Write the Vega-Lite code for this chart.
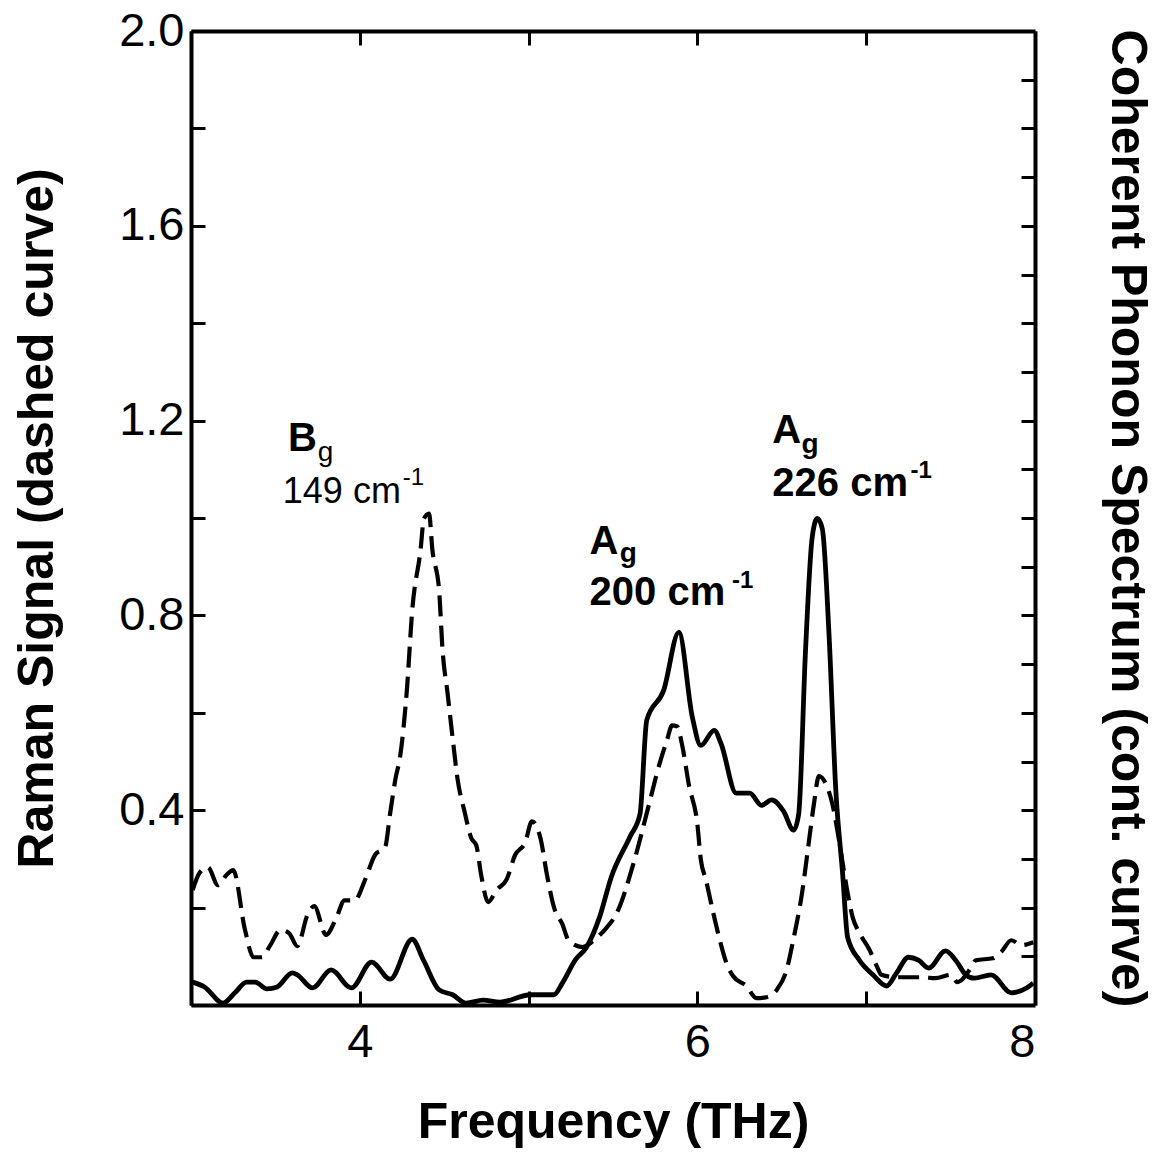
{
  "$schema": "https://vega.github.io/schema/vega-lite/v6.json",
  "width": 844,
  "height": 974,
  "autosize": {"type": "none"},
  "padding": {"left": 191, "top": 31, "right": 122, "bottom": 153},
  "background": "white",
  "config": {
    "view": {"stroke": null},
    "font": "Liberation Sans",
    "axis": {
      "domainColor": "black",
      "domainWidth": 4,
      "tickColor": "black",
      "tickWidth": 3,
      "tickSize": -14,
      "grid": false,
      "labelColor": "black",
      "titleColor": "black",
      "labelFont": "Liberation Sans",
      "titleFont": "Liberation Sans",
      "labelFontSize": 47,
      "labelFontWeight": "normal",
      "titleFontSize": 50,
      "titleFontWeight": "bold"
    }
  },
  "datasets": {
    "solid": [
      {"f": 3.01, "v": 0.047}, {"f": 3.08, "v": 0.037}, {"f": 3.19, "v": 0.004}, {"f": 3.26, "v": 0.025},
      {"f": 3.33, "v": 0.047}, {"f": 3.38, "v": 0.047}, {"f": 3.45, "v": 0.033}, {"f": 3.51, "v": 0.037},
      {"f": 3.60, "v": 0.066}, {"f": 3.63, "v": 0.062}, {"f": 3.72, "v": 0.035}, {"f": 3.83, "v": 0.072},
      {"f": 3.95, "v": 0.035}, {"f": 4.07, "v": 0.088}, {"f": 4.18, "v": 0.053}, {"f": 4.31, "v": 0.135},
      {"f": 4.38, "v": 0.090}, {"f": 4.47, "v": 0.031}, {"f": 4.55, "v": 0.021}, {"f": 4.63, "v": 0.004},
      {"f": 4.73, "v": 0.010}, {"f": 4.83, "v": 0.006}, {"f": 5.01, "v": 0.021}, {"f": 5.15, "v": 0.021},
      {"f": 5.20, "v": 0.045}, {"f": 5.28, "v": 0.094}, {"f": 5.34, "v": 0.117}, {"f": 5.42, "v": 0.180},
      {"f": 5.49, "v": 0.263}, {"f": 5.60, "v": 0.345}, {"f": 5.66, "v": 0.392}, {"f": 5.70, "v": 0.585},
      {"f": 5.80, "v": 0.646}, {"f": 5.89, "v": 0.765}, {"f": 5.97, "v": 0.591}, {"f": 6.02, "v": 0.533},
      {"f": 6.10, "v": 0.564}, {"f": 6.14, "v": 0.537}, {"f": 6.23, "v": 0.435}, {"f": 6.31, "v": 0.435},
      {"f": 6.38, "v": 0.410}, {"f": 6.44, "v": 0.421}, {"f": 6.51, "v": 0.398}, {"f": 6.57, "v": 0.359},
      {"f": 6.60, "v": 0.392}, {"f": 6.64, "v": 0.724}, {"f": 6.68, "v": 0.960}, {"f": 6.71, "v": 0.999},
      {"f": 6.74, "v": 0.978}, {"f": 6.78, "v": 0.759}, {"f": 6.82, "v": 0.441}, {"f": 6.86, "v": 0.271},
      {"f": 6.89, "v": 0.139}, {"f": 6.96, "v": 0.092}, {"f": 7.04, "v": 0.062}, {"f": 7.12, "v": 0.039},
      {"f": 7.18, "v": 0.066}, {"f": 7.25, "v": 0.098}, {"f": 7.31, "v": 0.092}, {"f": 7.37, "v": 0.076},
      {"f": 7.47, "v": 0.111}, {"f": 7.53, "v": 0.092}, {"f": 7.59, "v": 0.062}, {"f": 7.64, "v": 0.055},
      {"f": 7.74, "v": 0.062}, {"f": 7.86, "v": 0.025}, {"f": 7.95, "v": 0.035}, {"f": 7.99, "v": 0.045}
    ],
    "dashed": [
      {"f": 3.01, "v": 0.236}, {"f": 3.05, "v": 0.271}, {"f": 3.10, "v": 0.283}, {"f": 3.16, "v": 0.246},
      {"f": 3.21, "v": 0.267}, {"f": 3.25, "v": 0.277}, {"f": 3.32, "v": 0.154}, {"f": 3.37, "v": 0.098},
      {"f": 3.42, "v": 0.098}, {"f": 3.47, "v": 0.123}, {"f": 3.53, "v": 0.154}, {"f": 3.58, "v": 0.148},
      {"f": 3.63, "v": 0.121}, {"f": 3.69, "v": 0.185}, {"f": 3.73, "v": 0.203}, {"f": 3.80, "v": 0.144},
      {"f": 3.86, "v": 0.178}, {"f": 3.91, "v": 0.215}, {"f": 3.97, "v": 0.215}, {"f": 4.03, "v": 0.256},
      {"f": 4.09, "v": 0.308}, {"f": 4.15, "v": 0.324}, {"f": 4.18, "v": 0.394}, {"f": 4.21, "v": 0.462},
      {"f": 4.24, "v": 0.513}, {"f": 4.28, "v": 0.652}, {"f": 4.31, "v": 0.808}, {"f": 4.36, "v": 0.935},
      {"f": 4.38, "v": 0.999}, {"f": 4.41, "v": 1.009}, {"f": 4.43, "v": 0.935}, {"f": 4.47, "v": 0.851},
      {"f": 4.49, "v": 0.730}, {"f": 4.52, "v": 0.640}, {"f": 4.55, "v": 0.548}, {"f": 4.58, "v": 0.462},
      {"f": 4.62, "v": 0.398}, {"f": 4.66, "v": 0.343}, {"f": 4.69, "v": 0.328}, {"f": 4.72, "v": 0.265},
      {"f": 4.76, "v": 0.211}, {"f": 4.81, "v": 0.236}, {"f": 4.87, "v": 0.258}, {"f": 4.92, "v": 0.308},
      {"f": 4.98, "v": 0.334}, {"f": 5.02, "v": 0.377}, {"f": 5.07, "v": 0.343}, {"f": 5.11, "v": 0.265},
      {"f": 5.15, "v": 0.201}, {"f": 5.20, "v": 0.166}, {"f": 5.24, "v": 0.131}, {"f": 5.32, "v": 0.119},
      {"f": 5.38, "v": 0.131}, {"f": 5.46, "v": 0.158}, {"f": 5.52, "v": 0.187}, {"f": 5.62, "v": 0.289},
      {"f": 5.70, "v": 0.394}, {"f": 5.73, "v": 0.435}, {"f": 5.76, "v": 0.476}, {"f": 5.82, "v": 0.544},
      {"f": 5.85, "v": 0.574}, {"f": 5.88, "v": 0.572}, {"f": 5.91, "v": 0.533}, {"f": 5.95, "v": 0.451},
      {"f": 6.00, "v": 0.371}, {"f": 6.02, "v": 0.299}, {"f": 6.05, "v": 0.258}, {"f": 6.09, "v": 0.195},
      {"f": 6.13, "v": 0.137}, {"f": 6.17, "v": 0.088}, {"f": 6.21, "v": 0.060}, {"f": 6.29, "v": 0.039},
      {"f": 6.35, "v": 0.014}, {"f": 6.41, "v": 0.016}, {"f": 6.47, "v": 0.031}, {"f": 6.53, "v": 0.074},
      {"f": 6.57, "v": 0.137}, {"f": 6.62, "v": 0.230}, {"f": 6.66, "v": 0.334}, {"f": 6.69, "v": 0.412},
      {"f": 6.72, "v": 0.470}, {"f": 6.76, "v": 0.455}, {"f": 6.80, "v": 0.412}, {"f": 6.83, "v": 0.357},
      {"f": 6.86, "v": 0.293}, {"f": 6.89, "v": 0.230}, {"f": 6.92, "v": 0.180}, {"f": 6.96, "v": 0.148},
      {"f": 7.02, "v": 0.113}, {"f": 7.06, "v": 0.082}, {"f": 7.09, "v": 0.062}, {"f": 7.18, "v": 0.057},
      {"f": 7.25, "v": 0.057}, {"f": 7.33, "v": 0.057}, {"f": 7.41, "v": 0.055}, {"f": 7.50, "v": 0.062},
      {"f": 7.54, "v": 0.047}, {"f": 7.62, "v": 0.076}, {"f": 7.65, "v": 0.092}, {"f": 7.75, "v": 0.096},
      {"f": 7.80, "v": 0.109}, {"f": 7.86, "v": 0.133}, {"f": 7.92, "v": 0.123}, {"f": 7.99, "v": 0.129}
    ],
    "notes": [
      {"peak": "Bg", "part": "base", "f": 3.574, "v": 1.138, "t": "B"},
      {"peak": "Bg", "part": "sub", "f": 3.751, "v": 1.118, "t": "g"},
      {"peak": "Bg", "part": "line2", "f": 3.544, "v": 1.030, "t": "149 cm"},
      {"peak": "Bg", "part": "sup", "f": 4.255, "v": 1.067, "t": "-1"},
      {"peak": "Ag200", "part": "base", "f": 5.361, "v": 0.927, "t": "A"},
      {"peak": "Ag200", "part": "sub", "f": 5.540, "v": 0.909, "t": "g"},
      {"peak": "Ag200", "part": "line2", "f": 5.361, "v": 0.821, "t": "200 cm"},
      {"peak": "Ag200", "part": "sup", "f": 6.205, "v": 0.857, "t": "-1"},
      {"peak": "Ag226", "part": "base", "f": 6.444, "v": 1.153, "t": "A"},
      {"peak": "Ag226", "part": "sub", "f": 6.617, "v": 1.134, "t": "g"},
      {"peak": "Ag226", "part": "line2", "f": 6.444, "v": 1.046, "t": "226 cm"},
      {"peak": "Ag226", "part": "sup", "f": 7.262, "v": 1.083, "t": "-1"}
    ]
  },
  "resolve": {"axis": {"x": "independent", "y": "independent"}},
  "layer": [
    {
      "data": {"name": "solid"},
      "mark": {"type": "line", "color": "black", "strokeWidth": 4.8, "interpolate": "monotone"},
      "encoding": {
        "x": {
          "field": "f", "type": "quantitative",
          "scale": {"domain": [3, 8], "nice": false, "zero": false},
          "axis": {
            "orient": "bottom", "values": [3, 4, 5, 6, 7, 8],
            "labelExpr": "datum.value % 2 == 0 ? datum.label : ''",
            "labelPadding": 28,
            "title": "Frequency (THz)", "titlePadding": 32
          }
        },
        "y": {
          "field": "v", "type": "quantitative",
          "scale": {"domain": [0, 2], "nice": false},
          "axis": {
            "orient": "left",
            "values": [0, 0.2, 0.4, 0.6, 0.8, 1.0, 1.2, 1.4, 1.6, 1.8, 2.0],
            "labelExpr": "(round(datum.value * 10) % 4 == 0 && datum.value > 0) ? format(datum.value, '.1f') : ''",
            "labelPadding": 21,
            "title": "Raman Signal (dashed curve)", "titlePadding": 56
          }
        }
      }
    },
    {
      "data": {"name": "dashed"},
      "mark": {"type": "line", "color": "black", "strokeWidth": 4.2, "strokeDash": [21, 9], "interpolate": "monotone"},
      "encoding": {
        "x": {
          "field": "f", "type": "quantitative",
          "axis": {"orient": "top", "values": [3, 4, 5, 6, 7, 8], "labels": false, "title": null}
        },
        "y": {
          "field": "v", "type": "quantitative",
          "axis": {
            "orient": "right",
            "values": [0.1, 0.2, 0.3, 0.4, 0.5, 0.6, 0.7, 0.8, 0.9, 1.0, 1.1, 1.2, 1.3, 1.4, 1.5, 1.6, 1.7, 1.8, 1.9],
            "labels": false,
            "title": "Coherent Phonon Spectrum (cont. curve)", "titlePadding": 65
          }
        }
      }
    },
    {
      "data": {"name": "notes"},
      "transform": [{"filter": "datum.peak != 'Bg' && (datum.part == 'base' || datum.part == 'line2')"}],
      "mark": {"type": "text", "align": "left", "baseline": "alphabetic", "fontSize": 40, "fontWeight": "bold", "color": "black"},
      "encoding": {
        "x": {"field": "f", "type": "quantitative", "axis": null},
        "y": {"field": "v", "type": "quantitative", "axis": null},
        "text": {"field": "t"}
      }
    },
    {
      "data": {"name": "notes"},
      "transform": [{"filter": "datum.peak == 'Bg' && datum.part == 'base'"}],
      "mark": {"type": "text", "align": "left", "baseline": "alphabetic", "fontSize": 40, "fontWeight": "bold", "color": "black"},
      "encoding": {
        "x": {"field": "f", "type": "quantitative", "axis": null},
        "y": {"field": "v", "type": "quantitative", "axis": null},
        "text": {"field": "t"}
      }
    },
    {
      "data": {"name": "notes"},
      "transform": [{"filter": "datum.peak == 'Bg' && datum.part == 'line2'"}],
      "mark": {"type": "text", "align": "left", "baseline": "alphabetic", "fontSize": 36, "fontWeight": "normal", "color": "black"},
      "encoding": {
        "x": {"field": "f", "type": "quantitative", "axis": null},
        "y": {"field": "v", "type": "quantitative", "axis": null},
        "text": {"field": "t"}
      }
    },
    {
      "data": {"name": "notes"},
      "transform": [{"filter": "datum.peak == 'Bg' && datum.part == 'sub'"}],
      "mark": {"type": "text", "align": "left", "baseline": "alphabetic", "fontSize": 28, "fontWeight": "normal", "color": "black"},
      "encoding": {
        "x": {"field": "f", "type": "quantitative", "axis": null},
        "y": {"field": "v", "type": "quantitative", "axis": null},
        "text": {"field": "t"}
      }
    },
    {
      "data": {"name": "notes"},
      "transform": [{"filter": "datum.peak != 'Bg' && datum.part == 'sub'"}],
      "mark": {"type": "text", "align": "left", "baseline": "alphabetic", "fontSize": 28, "fontWeight": "bold", "color": "black"},
      "encoding": {
        "x": {"field": "f", "type": "quantitative", "axis": null},
        "y": {"field": "v", "type": "quantitative", "axis": null},
        "text": {"field": "t"}
      }
    },
    {
      "data": {"name": "notes"},
      "transform": [{"filter": "datum.peak == 'Bg' && datum.part == 'sup'"}],
      "mark": {"type": "text", "align": "left", "baseline": "alphabetic", "fontSize": 24, "fontWeight": "normal", "color": "black"},
      "encoding": {
        "x": {"field": "f", "type": "quantitative", "axis": null},
        "y": {"field": "v", "type": "quantitative", "axis": null},
        "text": {"field": "t"}
      }
    },
    {
      "data": {"name": "notes"},
      "transform": [{"filter": "datum.peak != 'Bg' && datum.part == 'sup'"}],
      "mark": {"type": "text", "align": "left", "baseline": "alphabetic", "fontSize": 24, "fontWeight": "bold", "color": "black"},
      "encoding": {
        "x": {"field": "f", "type": "quantitative", "axis": null},
        "y": {"field": "v", "type": "quantitative", "axis": null},
        "text": {"field": "t"}
      }
    }
  ]
}
